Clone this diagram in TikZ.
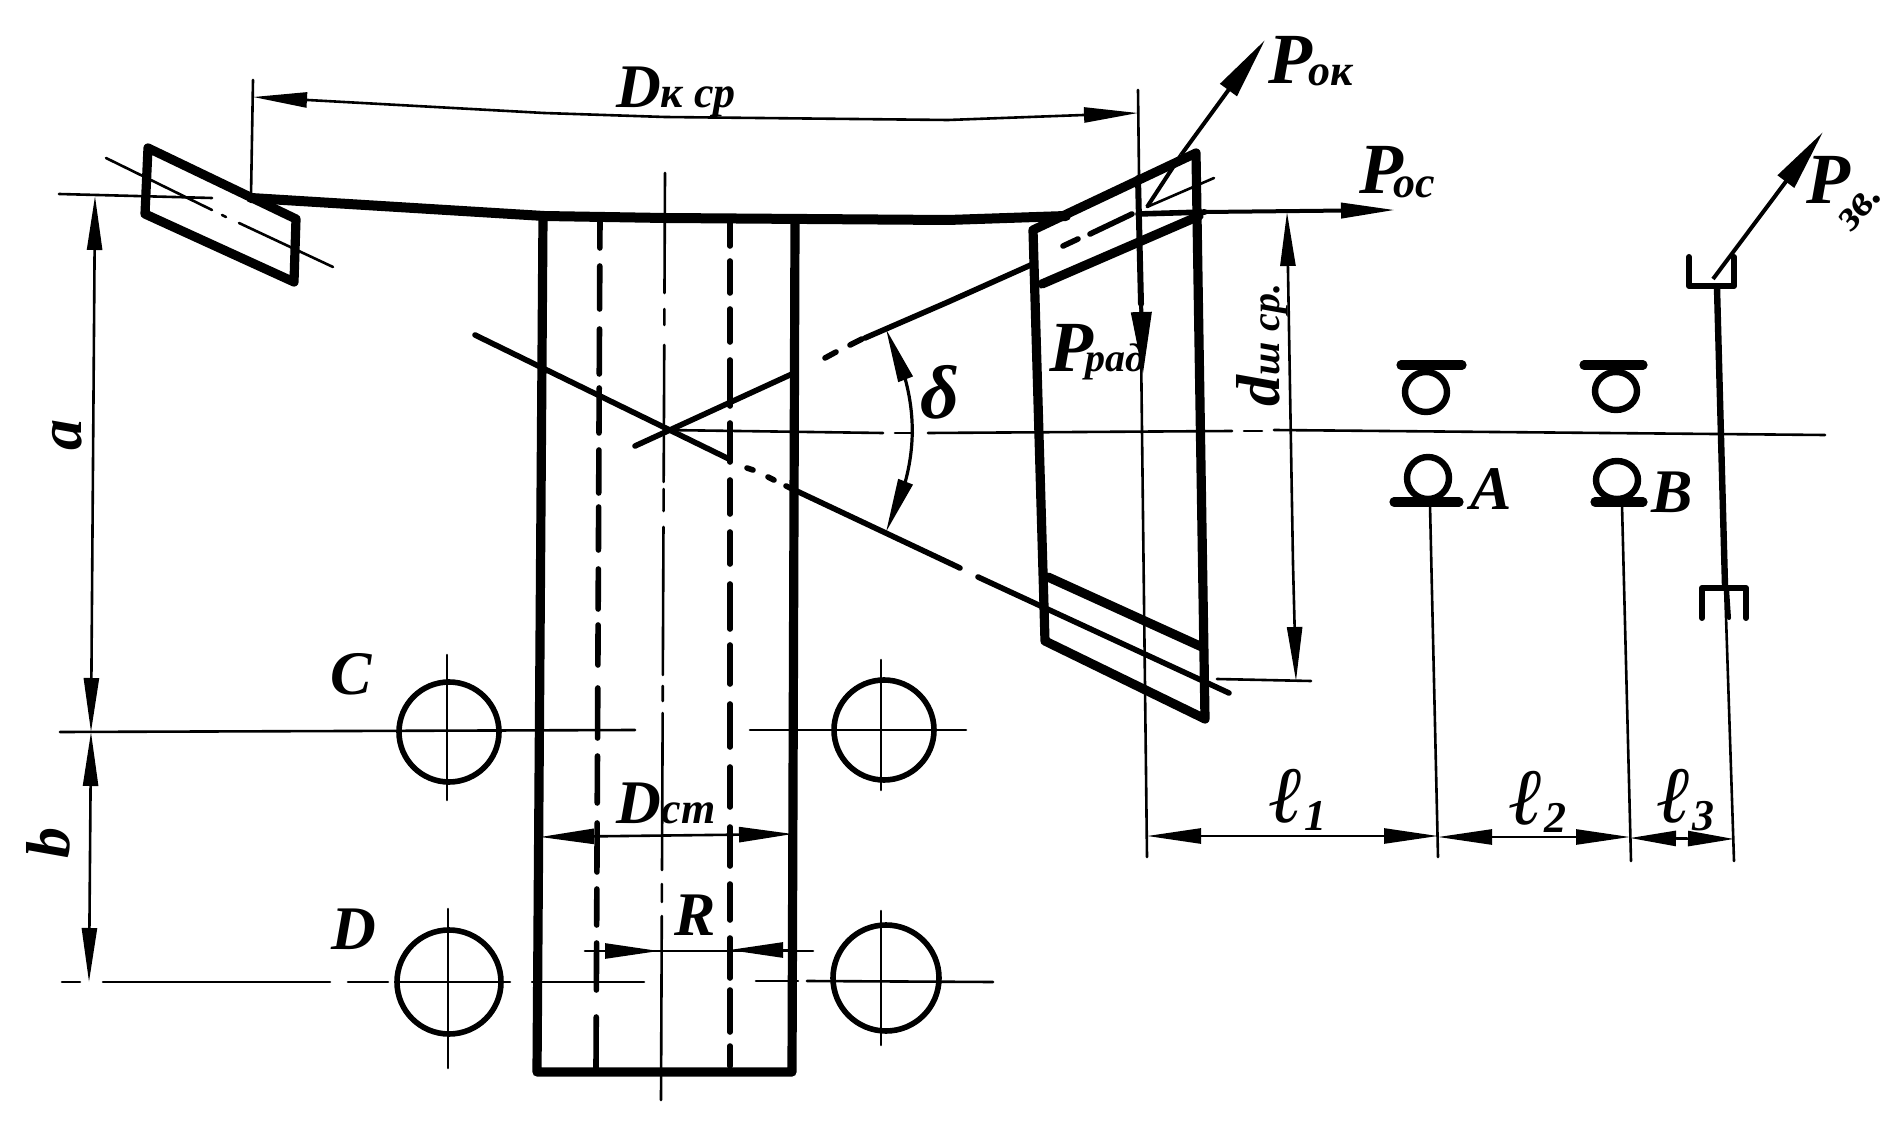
\documentclass[tikz,border=0pt]{standalone}
\usepackage{fontspec}
\setmainfont{Liberation Serif}
\usetikzlibrary{arrows.meta,bending}
\newcommand\bgf{\fontsize{31}{31}\selectfont}
\newcommand\hgf{\fontsize{36}{36}\selectfont}
\newcommand\smf{\fontsize{22}{22}\selectfont}
\newcommand\lgf{\fontsize{40}{40}\selectfont}
\tikzset{
  thn/.style={line width=1.3pt,line cap=round,line join=round},
  med/.style={line width=2.8pt,line cap=round,line join=round},
  thk/.style={line width=4.6pt,line cap=round,line join=round},
  dh/.tip={Triangle[length=27pt,width=7.5pt,sep=0pt]},
  ds/.tip={Triangle[length=23pt,width=7.5pt,sep=0pt]},
  fh/.tip={Triangle[length=31pt,width=10pt,sep=0pt]},
  lab/.style={inner sep=0pt,font=\bfseries\itshape\bgf}
}
\begin{document}
\begin{tikzpicture}[x=0.5pt,y=-0.5pt]
\useasboundingbox (0,0) rectangle (1896,1128);
\fill[white] (0,0) rectangle (1896,1128);
% left flange
\draw[thk] (148,148) -- (296,219) -- (294,282) -- (145,214) -- cycle;
\draw[thn] (106,158) -- (212,210);
\draw[thn] (222,215) -- (226,217);
\draw[thn] (239,223) -- (333,267);
\draw[thn] (59,194) -- (212,198);
% web top
\draw[thk,line width=5pt] (251,198) -- (544,216) -- (665,218) -- (948,220) -- (1066,216);
% web body
\draw[thk] (543,216) -- (537,1072) -- (792,1072) -- (795,223);
% dashed bore lines
\foreach \a/\b in {218/248,266/309,329/374,388/433,450/493,507/550,569/609,625/665,688/738,756/803,823/872,889/925,943/990,1017/1068}
  \draw[med] ({600-4*(\a-218)/850},\a) -- ({600-4*(\b-218)/850},\b);
\foreach \a/\b in {221/246,261/293,309/342,360/406,423/462,480/514,532/564,584/629,645/684,704/747,767/807,827/866,884/920,938/978,990/1032,1046/1066}
  \draw[med] (730,\a) -- (730,\b);
% centre line
\foreach \a/\b in {173/293,309/325,345/482,489/511,527/675,686/701,713/870,884/902,916/1100}
  \draw[thn] ({665-4*(\a-173)/927},\a) -- ({665-4*(\b-173)/927},\b);
% cone lines
\draw[med] (635,446) -- (792,374);
\draw[med] (825,358) -- (836,352);
\draw[med] (850,345) -- (862,339);
\draw[med] (865,338) -- (948,302) -- (1033,264);
\draw[med] (1063,246) -- (1078,239);
\draw[med] (1090,234) -- (1132,214);
\draw[thn] (1147,207) -- (1214,178);
\draw[med] (475,335) -- (729,459);
\draw[med] (747,468) -- (753,470);
\draw[med] (768,477) -- (774,480);
\draw[med] (786,486) -- (960,568);
\draw[med] (978,577) -- (1229,693);
% axis
\draw[thn] (665,430) -- (883,433);
\draw[thn] (895,433) -- (913,433);
\draw[thn] (928,433) -- (1232,431);
\draw[thn] (1244,431) -- (1262,431);
\draw[thn] (1274,430) -- (1825,435);
% angle
\draw[thn,line width=1.6pt,{dh[flex]}-{dh[flex]}] (886,329) .. controls (921,400) and (921,461) .. (886,532);
% right rim
\draw[thk] (1196,153) -- (1033,230) -- (1045,641) -- (1205,719) -- cycle;
\draw[thk] (1042,284) -- (1199,216);
\draw[thk] (1048,577) -- (1202,647);
% dimension Dk
\draw[thn] (253,80) -- (251,196);
\draw[thn,dh-dh] (253,97) -- (544,113) -- (665,117) -- (948,120) -- (1138,113);
% forces
\draw[thn] (1138,90) -- (1147,857);
\draw[thk,line width=3pt] (1138,178) -- (1141,304);
\draw[line width=2pt,-fh] (1141,300) -- (1143,374);
\draw[line width=2pt] (1181,155) -- (1147,207);
\draw[line width=2pt,-fh] (1181,155) -- (1265,40);
\draw[med] (1138,214) -- (1205,212);
\draw[line width=2pt,-dh] (1205,212) -- (1395,210);
% d_sh dimension
\draw[thn,dh-dh] (1287,212) -- (1293,564) -- (1296,681);
\draw[thn] (1217,679) -- (1311,681);
% bearings
\foreach \cx/\cy/\ry/\xa/\xb/\by in {1426/392/20/1401/1462/365,1616/391/19/1584/1643/365,1428/478/21/1394/1459/502,1617/480/19/1595/1643/502}{
  \draw[thk,line width=3.2pt] (\cx,\cy) circle [x radius=21,y radius=\ry];
  \draw[thk] (\xa,\by) -- (\xb,\by);
}
\draw[thn] (1430,505) -- (1438,857);
\draw[thn] (1622,505) -- (1631,861);
% shaft and gears
\draw[line width=3.2pt,line cap=round] (1717,288) -- (1725,586);
\draw[thn] (1725,586) -- (1734,861);
\draw[med,line width=3pt,line join=round] (1689,257) -- (1689,286) -- (1734,286) -- (1734,257);
\draw[med,line width=3pt,line join=round] (1702,618) -- (1702,588) -- (1746,588) -- (1746,618);
\draw[line width=2pt,line cap=round] (1727,588) -- (1729,618);
\draw[line width=2pt,-fh] (1713,279) -- (1823,132);
% bottom dimensions
\draw[thn,dh-dh] (1147,836) -- (1438,836);
\draw[thn,dh-dh] (1438,837) -- (1630,837);
\draw[thn,ds-ds] (1630,838) -- (1734,839);
% left dimensions
\draw[thn,dh-dh] (95,196) -- (91,732);
\draw[thn,dh-dh] (91,732) -- (89,982);
\draw[thn] (60,732) -- (635,730);
\draw[thn] (750,730) -- (966,730);
\draw[thn] (62,982) -- (80,982);
\draw[thn] (103,982) -- (330,982);
\draw[thn] (348,982) -- (388,982);
\draw[thn] (400,982) -- (510,982);
\draw[thn] (532,982) -- (644,982);
\draw[thn] (756,981) -- (798,981);
\draw[thn] (807,981) -- (993,982);
% holes
\draw[med] (449,732) circle [radius=50];
\draw[thn] (447,655) -- (447,800);
\draw[med] (884,730) circle [radius=50];
\draw[thn] (881,660) -- (881,790);
\draw[med] (449,982) circle [radius=52];
\draw[thn] (448,909) -- (448,1068);
\draw[med] (886,978) circle [radius=53];
\draw[thn] (881,911) -- (881,1045);
% Dst, R dimensions
\draw[thn,dh-dh] (540,837) -- (793,834);
\draw[thn] (585,951) -- (813,951);
\draw[thn,-dh] (600,951) -- (659,951);
\draw[thn,-dh] (790,950) -- (729,950);
% labels
\node[lab] (dk) at (676,92) {D{\smf к ср}};
\node[lab] (dst) at (666,803) {D{\smf ст}};
\node[lab] (rr) at (695,915) {R};
\node[lab] (cc) at (351,674) {C};
\node[lab] (dd) at (354,929) {D};
\node[lab,rotate=90] (aa) at (67,435) {a};
\node[lab,rotate=90] (bb) at (48,843) {b};
\node[lab,font=\bfseries\itshape\fontsize{38}{38}\selectfont] (dl) at (940,392) {δ};
\node[lab,anchor=base west,font=\bfseries\itshape\hgf] (pok) at (1268,84) {P\hspace{-2pt}{\smf\raisebox{-1pt}{ок}}};
\node[lab,anchor=base west,font=\bfseries\itshape\hgf] (poc) at (1359,194) {P\hspace{-5pt}{\smf\raisebox{-2pt}{ос}}};
\node[lab,anchor=base west,font=\bfseries\itshape\hgf] (prad) at (1049,372) {P\hspace{-4pt}{\fontsize{20}{20}\selectfont рад}};
\node[lab,font=\bfseries\itshape\hgf] (pzv) at (1828,180) {P};
\node[lab,rotate=50] (pzs) at (1860,208) {\smf зв.};
\node[lab,rotate=90] (dsh) at (1262,345) {d{\fontsize{20}{20}\selectfont ш ср.}};
\node[lab] (la) at (1491,489) {A};
\node[lab] (lb) at (1672,492) {B};
\node[lab,font=\bfseries\itshape\lgf] (l1) at (1298,800) {ℓ{\smf\raisebox{-4pt}{1}}};
\node[lab,font=\bfseries\itshape\lgf] (l2) at (1538,802) {ℓ{\smf\raisebox{-4pt}{2}}};
\node[lab,font=\bfseries\itshape\lgf] (l3) at (1686,800) {ℓ{\smf\raisebox{-4pt}{3}}};
\end{tikzpicture}
\end{document}
